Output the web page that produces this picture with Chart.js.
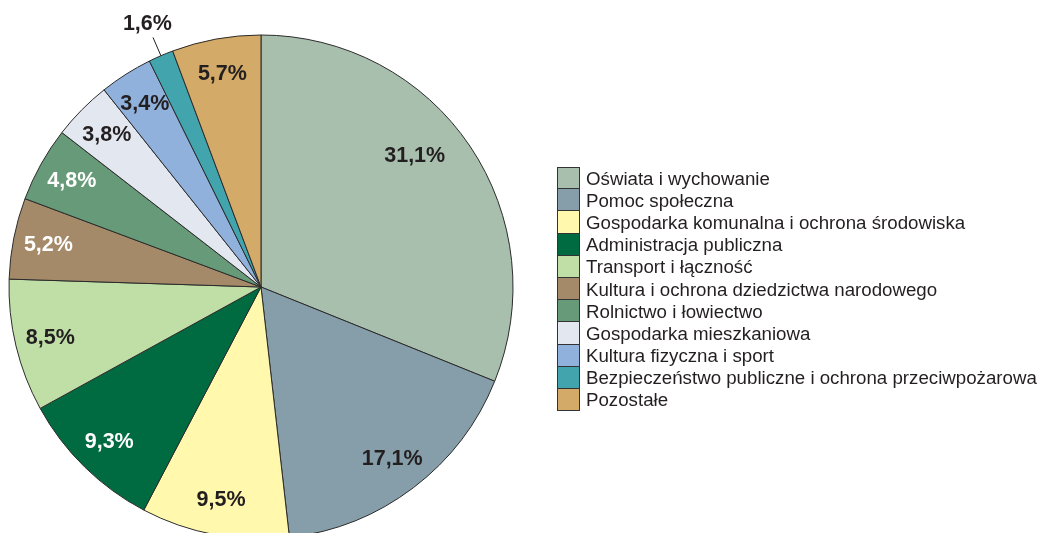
<!DOCTYPE html>
<html>
<head>
<meta charset="utf-8">
<script src="https://cdn.jsdelivr.net/npm/chart.js@4.4.1/dist/chart.umd.min.js"></script>
<style>
  html, body { margin: 0; padding: 0; background: #ffffff; overflow: hidden; }
  #wrap { position: relative; width: 1038px; height: 533px; }
  #c { position: absolute; left: 0; top: 0; }
  #legend { position: absolute; left: 557px; top: 167px; font-family: "Liberation Sans", Arial, sans-serif; font-size: 18.7px; color: #231f20; }
  .row { display: flex; align-items: center; height: 22.2px; }
  .sw { width: 23px; height: 22.2px; box-sizing: border-box; border: 1px solid #333333; border-top-width: 0; margin-right: 6px; }
  .row:first-child .sw { border-top-width: 1px; }
  .tx { white-space: nowrap; line-height: 22px; padding-top: 1px; }
</style>
</head>
<body>
<div id="wrap">
  <canvas id="c" width="1038" height="533"></canvas>
  <div id="legend"></div>
</div>
<script>
const categories = [
  "Oświata i wychowanie",
  "Pomoc społeczna",
  "Gospodarka komunalna i ochrona środowiska",
  "Administracja publiczna",
  "Transport i łączność",
  "Kultura i ochrona dziedzictwa narodowego",
  "Rolnictwo i łowiectwo",
  "Gospodarka mieszkaniowa",
  "Kultura fizyczna i sport",
  "Bezpieczeństwo publiczne i ochrona przeciwpożarowa",
  "Pozostałe"
];
const shares = [31.1, 17.1, 9.5, 9.3, 8.5, 5.2, 4.8, 3.8, 3.4, 1.6, 5.7];
const sliceColors = ["#a8bfae", "#869eaa", "#fff8ad", "#006b40", "#bfdfa7", "#a58a6a", "#679a78", "#e3e7f0", "#8fb1dc", "#42a5ad", "#d3aa67"];
const labelColors = ["#231f20", "#231f20", "#231f20", "#ffffff", "#231f20", "#ffffff", "#ffffff", "#231f20", "#231f20", "#231f20", "#231f20"];

// HTML legend
const legendEl = document.getElementById('legend');
categories.forEach((name, i) => {
  const row = document.createElement('div');
  row.className = 'row';
  const sw = document.createElement('div');
  sw.className = 'sw';
  sw.style.background = sliceColors[i];
  const tx = document.createElement('div');
  tx.className = 'tx';
  tx.textContent = name;
  row.appendChild(sw);
  row.appendChild(tx);
  legendEl.appendChild(row);
});

const fmt = v => v.toFixed(1).replace('.', ',') + '%';

const sliceLabels = {
  id: 'sliceLabels',
  afterDatasetsDraw(chart) {
    const ctx = chart.ctx;
    const meta = chart.getDatasetMeta(0);
    ctx.save();
    ctx.font = 'bold 21.5px "Liberation Sans", Arial, sans-serif';
    ctx.textAlign = 'center';
    ctx.textBaseline = 'middle';
    meta.data.forEach((arc, i) => {
      const p = arc.getProps(['x', 'y', 'startAngle', 'endAngle', 'outerRadius'], true);
      const mid = (p.startAngle + p.endAngle) / 2;
      const cos = Math.cos(mid), sin = Math.sin(mid);
      const text = fmt(shares[i]);
      if (shares[i] < 2) {
        const r0 = p.outerRadius, r1 = p.outerRadius + 20;
        ctx.strokeStyle = '#231f20';
        ctx.lineWidth = 1;
        ctx.beginPath();
        ctx.moveTo(p.x + cos * r0, p.y + sin * r0);
        ctx.lineTo(p.x + cos * r1, p.y + sin * r1);
        ctx.stroke();
        ctx.fillStyle = '#231f20';
        const rt = p.outerRadius + 34;
        ctx.fillText(text, p.x + cos * rt, p.y + sin * rt);
      } else {
        const rl = p.outerRadius * (i === 0 ? 0.80 : 0.86);
        const ang = i === 0 ? mid - 0.11 : mid;
        ctx.fillStyle = labelColors[i];
        ctx.fillText(text, p.x + Math.cos(ang) * rl, p.y + Math.sin(ang) * rl);
      }
    });
    ctx.restore();
  }
};

new Chart(document.getElementById('c'), {
  type: 'pie',
  data: {
    labels: categories,
    datasets: [{
      data: shares,
      backgroundColor: sliceColors,
      borderColor: '#2b2b2b',
      borderWidth: 1
    }]
  },
  options: {
    responsive: false,
    animation: false,
    radius: 252,
    layout: { padding: { left: 0, right: 516, top: 41, bottom: 0 } },
    plugins: {
      legend: { display: false },
      tooltip: { enabled: false }
    }
  },
  plugins: [sliceLabels]
});
</script>
</body>
</html>
